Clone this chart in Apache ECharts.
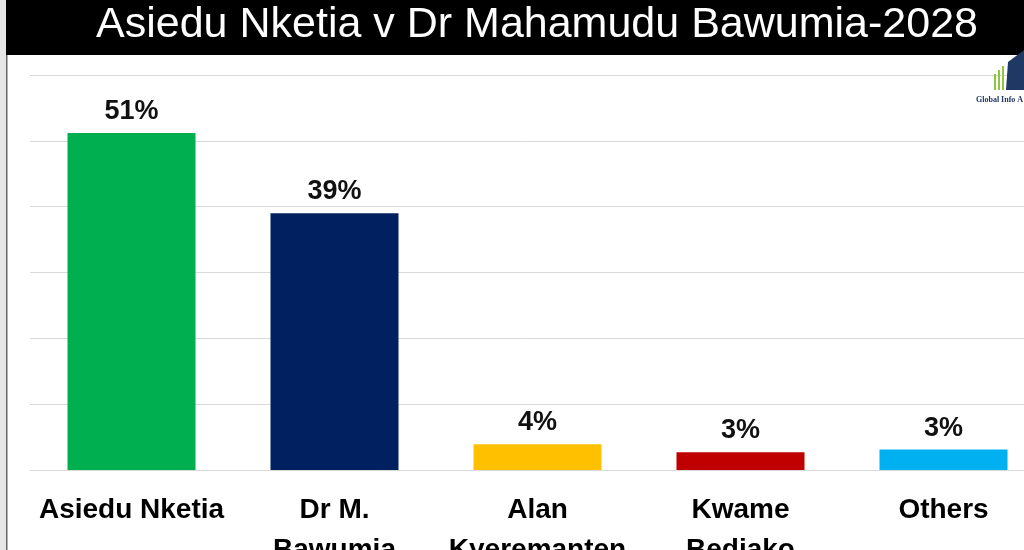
<!DOCTYPE html>
<html>
<head>
<meta charset="utf-8">
<script src="https://cdn.jsdelivr.net/npm/echarts@6/dist/echarts.min.js"></script>
<style>
html,body{margin:0;padding:0;background:#fff;}
#c{width:1024px;height:550px;}
</style>
</head>
<body>
<div id="c"></div>
<script>
const titleText = "Asiedu Nketia v Dr Mahamudu Bawumia-2028";
const categories = ["Asiedu Nketia", "Dr M.\nBawumia", "Alan\nKyeremanten", "Kwame\nBediako", "Others"];
const values = [51.2, 39.0, 3.9, 2.7, 3.1];
const valueLabels = ["51%", "39%", "4%", "3%", "3%"];
const barColors = ["#00B050", "#002060", "#FFC000", "#C00000", "#00B0F0"];

const chart = echarts.init(document.getElementById('c'));
chart.setOption({
  animation: false,
  backgroundColor: '#ffffff',
  graphic: [
    { type: 'rect', shape: { x: 0, y: 0, width: 6, height: 550 }, style: { fill: '#e6e6e6' }, z: 0 },
    { type: 'rect', shape: { x: 6, y: 0, width: 1.5, height: 550 }, style: { fill: '#666' }, z: 0 },
    { type: 'rect', shape: { x: 6, y: 0, width: 1018, height: 55 }, style: { fill: '#000' }, z: 0 },
    { type: 'text', x: 537, y: 25, style: { text: titleText, fill: '#fff', font: '43px "Liberation Sans", Arial, sans-serif', textAlign: 'center', textVerticalAlign: 'middle' }, z: 10 },
    { type: 'rect', shape: { x: 994, y: 74, width: 2, height: 16 }, style: { fill: '#8dc63f' }, z: 10 },
    { type: 'rect', shape: { x: 998, y: 70, width: 2, height: 20 }, style: { fill: '#8dc63f' }, z: 10 },
    { type: 'rect', shape: { x: 1002, y: 66, width: 2, height: 24 }, style: { fill: '#8dc63f' }, z: 10 },
    { type: 'polygon', shape: { points: [[1008, 62], [1024, 50], [1024, 90], [1006, 90]] }, style: { fill: '#1f3864' }, z: 10 },
    { type: 'text', x: 976, y: 96, style: { text: 'Global Info A', fill: '#1f3864', font: 'bold 8px "Liberation Serif", serif' }, z: 10 }
  ],
  grid: { left: 30, top: 75, width: 1015, height: 395, containLabel: false, outerBoundsMode: 'none' },
  xAxis: {
    type: 'category',
    data: categories,
    axisLine: { show: true, lineStyle: { color: '#d9d9d9', width: 1 } },
    axisTick: { show: false },
    axisLabel: {
      color: '#000',
      fontFamily: '"Liberation Sans", Arial, sans-serif',
      fontWeight: 'bold',
      fontSize: 28,
      lineHeight: 40,
      margin: 20,
      interval: 0
    }
  },
  yAxis: {
    type: 'value',
    min: 0, max: 60, interval: 10,
    axisLabel: { show: false },
    axisLine: { show: false },
    axisTick: { show: false },
    splitLine: { show: true, lineStyle: { color: '#d9d9d9', width: 1 } }
  },
  series: [{
    type: 'bar',
    data: values.map((v, i) => ({ value: v, itemStyle: { color: barColors[i] } })),
    barWidth: 128,
    label: {
      show: true,
      position: 'top',
      distance: 8,
      formatter: p => valueLabels[p.dataIndex],
      color: '#111',
      fontFamily: '"Liberation Sans", Arial, sans-serif',
      fontWeight: 'bold',
      fontSize: 27
    }
  }]
});
</script>
</body>
</html>
